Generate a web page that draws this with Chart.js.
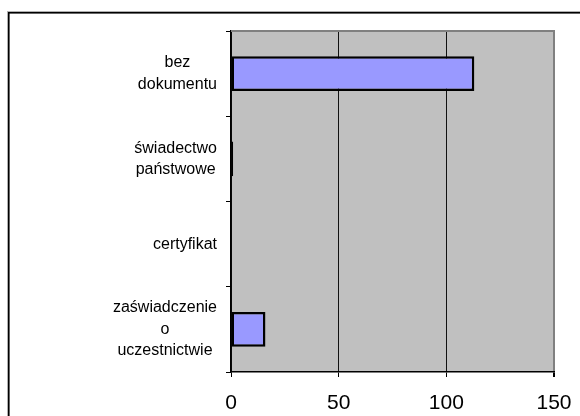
<!DOCTYPE html>
<html>
<head>
<meta charset="utf-8">
<script src="https://cdn.jsdelivr.net/npm/chart.js@4/dist/chart.umd.min.js"></script>
<style>
  html, body { margin: 0; padding: 0; background: #fff; }
  #wrap { position: relative; width: 580px; height: 416px; }
</style>
</head>
<body>
<div id="wrap"><canvas id="c" width="580" height="416"></canvas></div>
<script>
const categories = [
  ['bez', 'dokumentu'],
  ['świadectwo', 'państwowe'],
  ['certyfikat'],
  ['zaświadczenie', 'o', 'uczestnictwie']
];
const values = [113, 1, 0, 16];
const xTicks = [0, 50, 100, 150];

const LABEL_FONT = '16px "Liberation Sans", Arial, sans-serif';
const LABEL_LINE = 21.5;

const framePlugin = {
  id: 'frame',
  beforeDraw(chart) {
    const { ctx, chartArea: a } = chart;
    ctx.save();
    ctx.fillStyle = '#ffffff';
    ctx.fillRect(0, 0, chart.width, chart.height);
    // outer border
    ctx.fillStyle = '#b0b0b0';
    ctx.fillRect(7, 11, 1, chart.height);
    ctx.fillRect(7, 11, chart.width, 1);
    ctx.fillStyle = '#000';
    ctx.fillRect(8, 12, 1.6, chart.height);
    ctx.fillRect(8, 12, chart.width, 1.6);
    // plot background
    ctx.fillStyle = '#C0C0C0';
    ctx.fillRect(a.left, a.top, a.right - a.left, a.bottom - a.top);
    ctx.restore();
  },
  beforeDatasetsDraw(chart) {
    const { ctx, chartArea: a } = chart;
    ctx.save();
    ctx.strokeStyle = '#808080';
    ctx.lineWidth = 2;
    ctx.beginPath();
    ctx.moveTo(a.left, a.top);
    ctx.lineTo(a.right + 1, a.top);
    ctx.stroke();
    ctx.restore();
  },
  afterDraw(chart) {
    const { ctx, chartArea: a } = chart;
    const y = chart.scales.y;
    const rightEdge = a.left - 14;
    ctx.save();
    ctx.font = LABEL_FONT;
    ctx.fillStyle = '#000';
    ctx.textAlign = 'center';
    ctx.textBaseline = 'middle';
    categories.forEach((lines, i) => {
      const cy = y.getPixelForTick(i);
      const w = Math.max(...lines.map(l => ctx.measureText(l).width));
      const cx = rightEdge - w / 2;
      lines.forEach((l, j) => {
        ctx.fillText(l, cx, cy + (j - (lines.length - 1) / 2) * LABEL_LINE);
      });
    });
    ctx.restore();
  }
};

new Chart(document.getElementById('c'), {
  type: 'bar',
  data: {
    labels: categories,
    datasets: [{
      data: values,
      backgroundColor: '#9999FF',
      borderColor: '#000000',
      borderWidth: 2.5,
      borderSkipped: false,
      barPercentage: 0.41,
      categoryPercentage: 1
    }]
  },
  options: {
    indexAxis: 'y',
    responsive: false,
    animation: false,
    devicePixelRatio: 1,
    layout: { padding: { left: 0, top: 31, right: 26, bottom: 0 } },
    plugins: { legend: { display: false }, tooltip: { enabled: false } },
    scales: {
      x: {
        min: xTicks[0],
        max: xTicks[xTicks.length - 1],
        afterBuildTicks(scale) { scale.ticks = xTicks.map(v => ({ value: v })); },
        afterFit(scale) { scale.height = 44; scale.paddingLeft = 0; scale.paddingRight = 0; },
        ticks: {
          color: '#000',
          font: { family: '"Liberation Sans", Arial, sans-serif', size: 21 },
          padding: 14,
          maxRotation: 0,
          autoSkip: false
        },
        grid: {
          color: c => (c.tick && c.tick.value === 150) ? '#808080' : '#111',
          lineWidth: c => (c.tick && c.tick.value === 150) ? 2 : 1,
          tickColor: '#000',
          tickLength: 5,
          drawTicks: true
        },
        border: { display: true, color: '#000', width: 1.5 }
      },
      y: {
        afterFit(scale) { scale.width = 231; scale.paddingTop = 0; scale.paddingBottom = 0; },
        ticks: { display: false },
        grid: {
          drawOnChartArea: false,
          drawTicks: true,
          tickLength: 5,
          tickColor: '#000',
          offset: true
        },
        border: { display: true, color: '#000', width: 1.5 }
      }
    }
  },
  plugins: [framePlugin]
});
</script>
</body>
</html>
